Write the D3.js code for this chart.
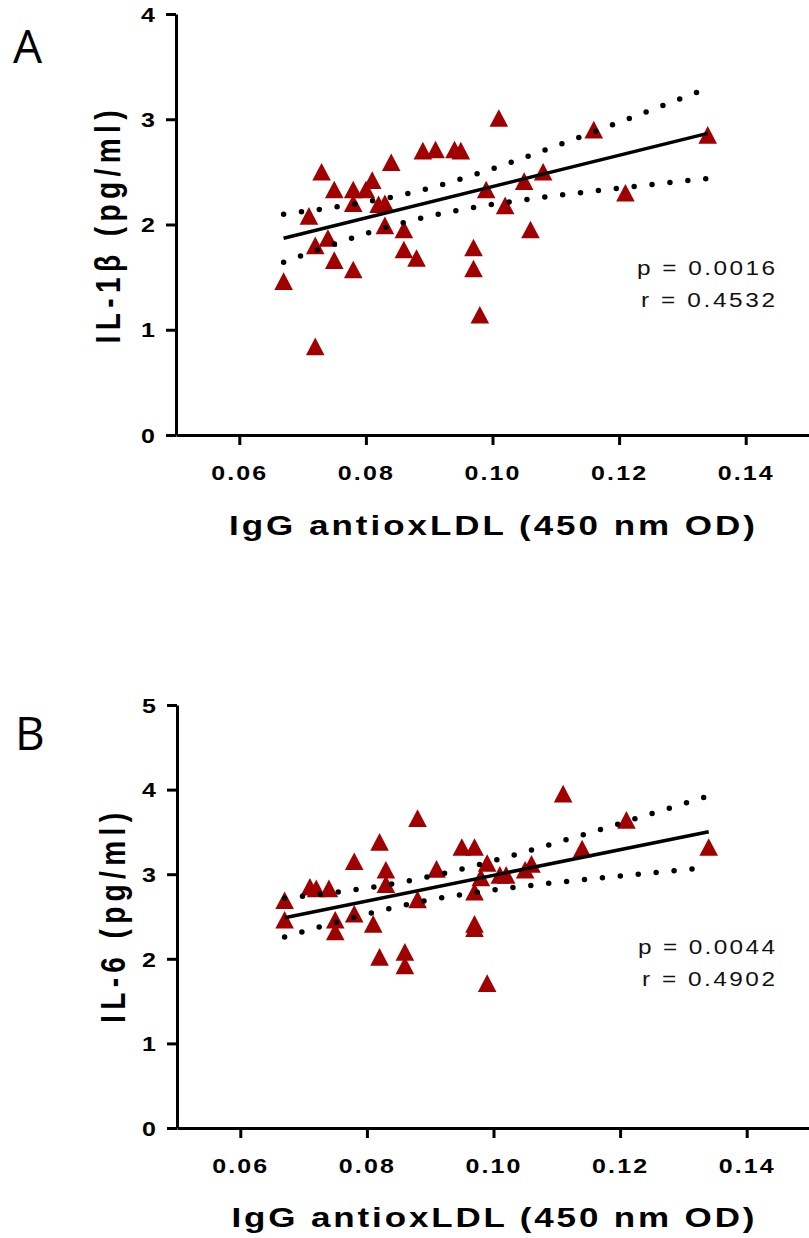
<!DOCTYPE html>
<html><head><meta charset="utf-8">
<script src="https://cdn.jsdelivr.net/npm/d3@7"></script>
<style>body{margin:0;background:#fff;} svg{display:block;}</style>
</head><body>
<svg id="c" width="809" height="1238"></svg>
<script>
// ---- data ----
const xTicks = [0.06, 0.08, 0.10, 0.12, 0.14];
const yTicksA = [0, 1, 2, 3, 4];
const yTicksB = [0, 1, 2, 3, 4, 5];

const antioxA = [0.073,0.084,0.089,0.075,0.078,0.081,0.080,0.078,0.082,0.083,0.071,0.083,0.086,0.074,0.072,0.086,0.088,0.075,0.078,0.067,0.072,
                 0.101,0.091,0.094,0.095,0.116,0.134,0.108,0.105,0.099,0.102,0.121,0.106,0.097,0.097,0.098];
const il1b    = [2.50,2.59,2.70,2.33,2.33,2.42,2.33,2.20,2.19,2.20,2.08,1.99,1.95,1.87,1.80,1.76,1.68,1.66,1.57,1.46,0.84,
                 3.01,2.71,2.71,2.70,2.90,2.85,2.50,2.41,2.33,2.18,2.30,1.95,1.78,1.58,1.14];

const antioxB = [0.088,0.082,0.078,0.083,0.083,0.071,0.072,0.074,0.067,0.088,0.067,0.078,0.075,0.075,0.081,0.082,0.086,0.086,
                 0.111,0.121,0.095,0.097,0.114,0.134,0.091,0.099,0.106,0.105,0.101,0.102,0.098,0.097,0.097,0.097,0.099];
const il6     = [3.66,3.38,3.15,3.05,2.88,2.85,2.83,2.83,2.69,2.70,2.46,2.53,2.46,2.32,2.41,2.02,2.08,1.92,
                 3.95,3.64,3.32,3.32,3.30,3.32,3.06,3.13,3.12,3.05,2.99,2.99,2.96,2.79,2.41,2.36,1.71];

// fitted line: [x, y] at both ends
const fitLineA = [[0.067, 1.87], [0.134, 2.866]];
const fitLineB = [[0.067, 2.486], [0.134, 3.502]];
// 95% band half-widths
const bandXA = [0.067, 0.076, 0.099, 0.133];
const bandHA = [0.227, 0.170, 0.165, 0.420];
const bandXB = [0.067, 0.079, 0.105, 0.111, 0.1335];
const bandHB = [0.235, 0.165, 0.200, 0.233, 0.420];

const panelLabels = ["A", "B"];
const yTitles = ["IL-1β (pg/ml)", "IL-6 (pg/ml)"];
const xTitle = "IgG antioxLDL (450 nm OD)";
const statsA = ["p = 0.0016", "r = 0.4532"];
const statsB = ["p = 0.0044", "r = 0.4902"];

// ---- drawing ----
const svg = d3.select("#c");
const SX = 1.25;
const RED = "#a00000";
const FONT = "'Liberation Sans', Arial, sans-serif";

// hyperbolic band h(x)^2 = c0 + c1 (x - xm)^2, least squares on read half-widths
function bandFn(bx, bh, xm) {
  const u = bx.map(v => (v - xm) ** 2), w = bh.map(h => h * h);
  const um = d3.mean(u), wm = d3.mean(w);
  let num = 0, den = 0;
  u.forEach((ui, i) => { num += (ui - um) * (w[i] - wm); den += (ui - um) ** 2; });
  const c1 = num / den, c0 = wm - c1 * um;
  return v => Math.sqrt(Math.max(c0 + c1 * (v - xm) ** 2, 0));
}

function panel(cfg) {
  const x = d3.scaleLinear().domain([0.05, 0.15]).range([cfg.x0, cfg.x1]);
  const y = d3.scaleLinear().domain([0, cfg.ymax]).range([cfg.yb, cfg.yt]);
  const g = svg.append("g");

  // y axis
  const ya = g.append("g").attr("transform", `translate(${cfg.x0},0)`)
    .call(d3.axisLeft(y).tickValues(cfg.yTicks).tickSize(10).tickSizeOuter(0).tickFormat(d3.format("d")));
  ya.selectAll("text").attr("x", 0).attr("dy", "0.36em")
    .attr("transform", `translate(-21,0) scale(${SX},1)`);
  // x axis
  const xa = g.append("g").attr("transform", `translate(0,${cfg.yb})`)
    .call(d3.axisBottom(x).tickValues(xTicks).tickSize(10).tickSizeOuter(0).tickPadding(21).tickFormat(d3.format(".2f")));
  xa.selectAll("text").attr("transform", `scale(${SX},1)`).style("letter-spacing", "1.7px");
  [ya, xa].forEach(a => {
    a.select(".domain").attr("stroke", "#000").attr("stroke-width", 3);
    a.selectAll(".tick line").attr("stroke", "#000").attr("stroke-width", 3);
    a.selectAll("text").attr("fill", "#000").style("font-family", FONT)
      .style("font-weight", "bold").style("font-size", "20px");
  });

  // points
  g.append("g").selectAll("path").data(cfg.xs.map((d, i) => [d, cfg.ys[i]])).join("path")
    .attr("transform", d => `translate(${x(d[0])},${y(d[1])})`)
    .attr("d", "M0,-9L9.3,8.6L-9.3,8.6Z")
    .attr("fill", RED);

  // regression line + 95% band
  const [[xa0, ya0], [xa1, ya1]] = cfg.fit;
  const slope = (ya1 - ya0) / (xa1 - xa0);
  const yhat = v => ya0 + slope * (v - xa0);
  const hw = bandFn(cfg.bandX, cfg.bandH, 0.088);
  const samples = d3.range(0, 81).map(i => xa0 + (xa1 - xa0) * i / 80);
  const line = d3.line().x(d => x(d[0])).y(d => y(d[1]));
  [1, -1].forEach(sgn => {
    g.append("path").attr("d", line(samples.map(v => [v, yhat(v) + sgn * hw(v)])))
      .attr("fill", "none").attr("stroke", "#000").attr("stroke-width", 5.5)
      .attr("stroke-linecap", "round").attr("stroke-dasharray", "0 18");
  });
  g.append("path").attr("d", line(cfg.fit))
    .attr("fill", "none").attr("stroke", "#000").attr("stroke-width", 3.5);

  // stats text
  cfg.stats.forEach((t, i) => {
    g.append("text").attr("transform", `translate(${cfg.statX[i]},${cfg.statY[i]}) scale(${SX},1)`)
      .attr("textLength", cfg.statW[i] / SX).attr("lengthAdjust", "spacing")
      .style("font-family", FONT).style("font-size", "19.5px").attr("fill", "#111").text(t);
  });

  // x title
  g.append("text").attr("transform", `translate(${cfg.xtX},${cfg.xtY}) scale(${SX},1)`)
    .attr("text-anchor", "middle").attr("textLength", cfg.xtW / SX).attr("lengthAdjust", "spacing")
    .style("font-family", FONT).style("font-weight", "bold").style("font-size", "28px")
    .attr("fill", "#000").text(xTitle);

  // y title
  g.append("text").attr("transform", `translate(${cfg.ytX},${cfg.ytY}) scale(${SX},1) rotate(-90)`)
    .attr("text-anchor", "middle").attr("textLength", cfg.ytW).attr("lengthAdjust", "spacing")
    .style("font-family", FONT).style("font-weight", "bold").style("font-size", "28px")
    .attr("fill", "#000").text(cfg.yTitle);

  // panel letter
  g.append("text").attr("x", cfg.lx).attr("y", cfg.ly)
    .style("font-family", "'Open Sans', 'Noto Sans', sans-serif").style("font-size", "46px")
    .attr("fill", "#000").text(cfg.label);
}

panel({xs: antioxA, ys: il1b, ymax: 4, yTicks: yTicksA,
  x0: 176, x1: 809, yb: 435, yt: 14, fit: fitLineA, bandX: bandXA, bandH: bandHA,
  stats: statsA, statX: [637, 641], statY: [275, 307], statW: [138, 134],
  xtX: 492, xtY: 535, xtW: 526, ytX: 120, ytY: 227, ytW: 233, yTitle: yTitles[0],
  label: panelLabels[0], lx: 13, ly: 63});

panel({xs: antioxB, ys: il6, ymax: 5, yTicks: yTicksB,
  x0: 177, x1: 810, yb: 1128, yt: 705, fit: fitLineB, bandX: bandXB, bandH: bandHB,
  stats: statsB, statX: [638, 642], statY: [954, 986], statW: [137, 133],
  xtX: 493, xtY: 1227, xtW: 523, ytX: 125, ytY: 918, ytW: 210, yTitle: yTitles[1],
  label: panelLabels[1], lx: 15, ly: 750});
</script>
</body></html>
